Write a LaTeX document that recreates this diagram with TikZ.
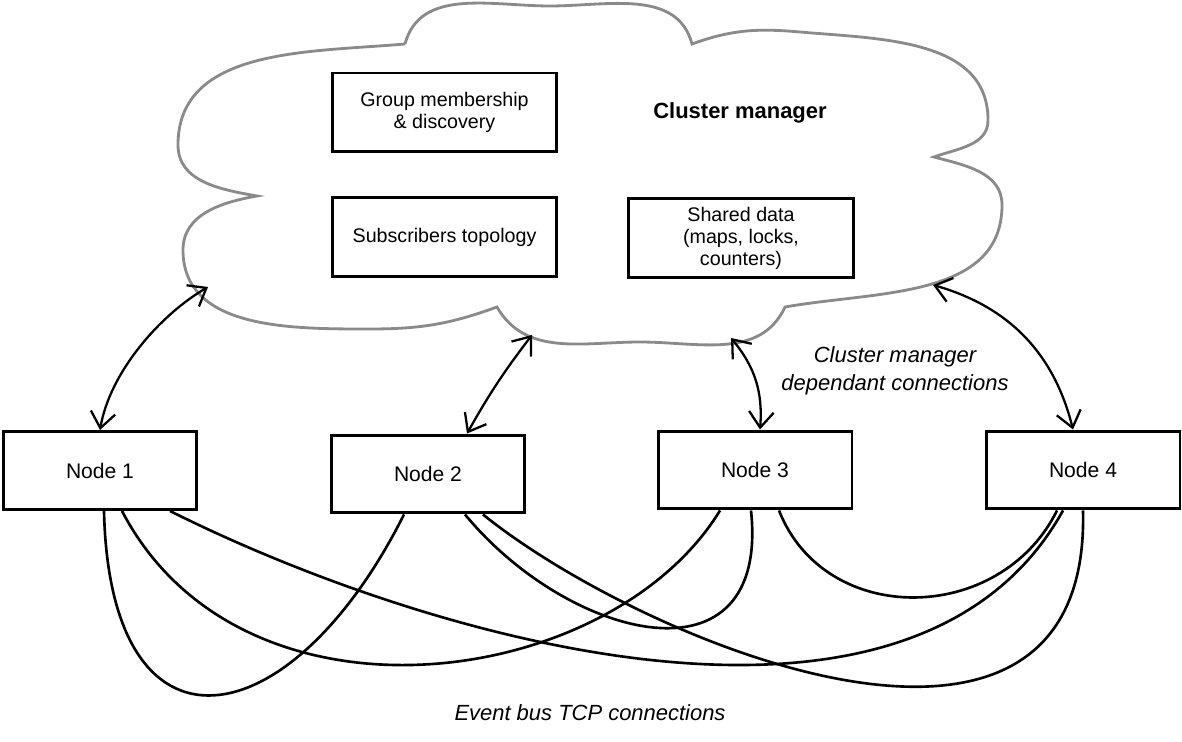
\documentclass[tikz,border=0pt]{standalone}
\usepackage{fontspec}
\setmainfont{Liberation Sans}
\usepackage{tikz}
\usetikzlibrary{arrows.meta}
\definecolor{cloudgray}{HTML}{8A8A8A}

\begin{document}
\begin{tikzpicture}[x=0.02cm,y=0.02cm]%[scale=1]
\tikzstyle{box}=[draw,line width=1.7pt,align=center,font=\fontsize{11.2}{12.5}\selectfont,minimum width=4.5cm,minimum height=1.58cm,inner sep=0pt]
\tikzstyle{nodebox}=[box,font=\fontsize{12}{14}\selectfont,minimum width=3.88cm,minimum height=1.56cm]
\tikzstyle{wire}=[line width=1.5pt]
\tikzstyle{link}=[line width=1.3pt,{Straight Barb[length=9pt,width=14pt]}-{Straight Barb[length=9pt,width=14pt]}]
\tikzstyle{note}=[font=\fontsize{12.5}{16}\selectfont\itshape,align=center]

\useasboundingbox (0,0) rectangle (1182,-742);

% cloud
\draw[cloudgray,line width=1.6pt] (405,-44) to[out=75,in=180] (550,-6) to[out=0,in=105] (692,-44)
 to[out=20,in=175] (800,-32) to[out=-5,in=90] (988,-120) to[out=-90,in=20] (934,-157)
 to[out=-15,in=90] (1002,-205) to[out=-90,in=10] (785,-307)
 to[out=-115,in=0] (640,-342) to[out=180,in=-60] (497,-307)
 to[out=-160,in=0] (370,-329) to[out=180,in=-90] (183,-250) to[out=90,in=-170] (257,-196)
 to[out=170,in=-90] (178,-145) to[out=90,in=185] (405,-44);

\node[box] (gm) at (444.5,-112.5) {Group membership\\\& discovery};
\node[box] (st) at (444.5,-237) {Subscribers topology};
\node[box] (sd) at (741,-238) {Shared data\\(maps, locks,\\counters)};
\node[font=\fontsize{12.5}{15}\selectfont\bfseries] (cm) at (740,-113) {Cluster manager};

\path node foreach \i/\x/\y in {1/100/470.5,2/428/474,3/755/470,4/1083/470} [nodebox] (n\i) at (\x,-\y) {Node \i};

\coordinate (c1) at (208,-287);
\coordinate (c2) at (532,-335);
\coordinate (c3) at (731,-338);
\coordinate (c4) at (933,-285);

\draw[link] (n1.north) .. controls +(10,58) and +(-48,-28) .. (c1);
\draw[link] ([xshift=0.78cm]n2.north) to[bend left=4] (c2);
\draw[link] ([xshift=0.1cm]n3.north) to[bend right=22] (c3);
\draw[link] ([xshift=-0.2cm]n4.north) to[bend right=30] (c4);

\node[note] (dep) at (895,-371) {Cluster manager\\dependant connections};

% event bus
\draw[wire] ([xshift=0.08cm]n1.south) .. controls +(6,-260) and +(-114,-227) .. ([xshift=-0.48cm]n2.south);
\draw[wire] ([xshift=0.44cm]n1.south) .. controls +(120,-230) and +(-110,-180) .. ([xshift=-0.7cm]n3.south);
\draw[wire] ([xshift=1.4cm]n1.south) .. controls +(260,-130) and +(-150,-270) .. ([xshift=-0.4cm]n4.south);
\draw[wire] ([xshift=0.74cm]n2.south) .. controls +(105,-127) and +(19,-180) .. ([xshift=-0.08cm]n3.south);
\draw[wire] ([xshift=1.1cm]n2.south) .. controls +(157,-127) and +(8,-320) .. (n4.south);
\draw[wire] ([xshift=0.48cm]n3.south) .. controls +(46,-117) and +(-57,-115) .. ([xshift=-0.52cm]n4.south);

\node[note] (bus) at (590,-713) {Event bus TCP connections};
\end{tikzpicture}
\end{document}
